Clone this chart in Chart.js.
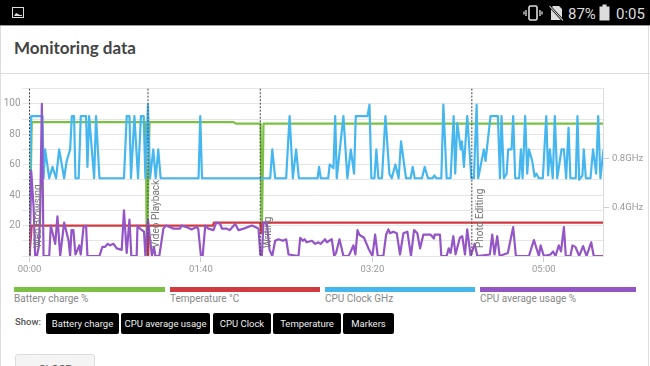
<!DOCTYPE html>
<html>
<head>
<meta charset="utf-8">
<script src="https://cdn.jsdelivr.net/npm/chart.js@4"></script>
<style>
    html, body { margin: 0; padding: 0; background: #fff; overflow: hidden; }
    body { position: relative; width: 650px; height: 366px; font-family: Roboto, sans-serif; }
    .abs { position: absolute; white-space: nowrap; }
    #statusBar { left: 0; top: 0; width: 650px; height: 25px; background: #000; border-bottom: 1px solid #999; }
    #sideLeft { left: 0; top: 26px; width: 1px; height: 340px; background: #ddd; }
    #sideRight { left: 648px; top: 26px; width: 1px; height: 340px; background: #ddd; }
    #title { left: 14px; top: 37px; font: bold 17px Lato, sans-serif; color: #444; }
    #divider { left: 0; top: 73px; width: 650px; height: 1px; background: #ddd; }
    #chartBox { left: 0; top: 80px; width: 650px; height: 200px; }
    .swatch { height: 5px; top: 287px; }
    .swatchLabel { top: 293px; font-size: 10px; color: #888; }
    #showLabel { left: 15px; top: 316px; font-size: 9.5px; font-weight: 500; color: #555; }
    .btn { top: 313px; height: 21px; line-height: 21px; background: #000; color: #eee; border-radius: 2px;
        font-size: 9.5px; font-weight: 400; text-align: center; }
    #closeBtn { left: 15px; top: 354px; width: 78px; height: 24px; background: #f4f4f4; border: 1px solid #ddd;
        border-radius: 3px; text-align: center; font-size: 11px; line-height: 30px; color: #555; }
    .statusText { color: #ddd; font-size: 15px; top: 5px; }
</style>
</head>
<body>
<div class="abs" id="statusBar"></div>
<svg class="abs" style="left:12px;top:7px" width="13" height="12">
    <rect x="0.5" y="0.5" width="11" height="10" fill="none" stroke="#ddd"/>
    <path d="M2 9 L4 6 L6 7 L8 8 L10 8 L10 9 Z" fill="#ddd"/>
</svg>
<svg class="abs" style="left:523px;top:5px" width="20" height="16">
    <rect x="6" y="1" width="8" height="14" rx="1.5" fill="none" stroke="#ddd" stroke-width="1.6"/>
    <path d="M3 5 V11 M1 6.5 V9.5 M17 5 V11 M19 6.5 V9.5" stroke="#ddd" stroke-width="1.3"/>
</svg>
<svg class="abs" style="left:549px;top:5px" width="15" height="16">
    <path d="M4 1 H10 L13 4 V15 H2 V3 Z" fill="#ddd"/>
    <path d="M0.5 1 L14 15.5" stroke="#000" stroke-width="2.4"/>
    <path d="M0.5 1 L14 15.5" stroke="#ddd" stroke-width="1.1"/>
</svg>
<div class="abs statusText" style="left:568px">87%</div>
<svg class="abs" style="left:599px;top:4px" width="11" height="17">
    <path d="M3.5 0.5 H7.5 V2.5 H10.5 V16.5 H0.5 V2.5 H3.5 Z" fill="#ddd"/>
</svg>
<div class="abs statusText" style="left:616px">0:05</div>

<div class="abs" id="sideLeft"></div>
<div class="abs" id="sideRight"></div>
<div class="abs" id="title">Monitoring data</div>
<div class="abs" id="divider"></div>

<div class="abs" id="chartBox"><canvas id="monitorChart" width="650" height="200"></canvas></div>

<div class="abs swatch" style="left:14px;width:151px;background:#7ac143"></div>
<div class="abs swatchLabel" style="left:14px">Battery charge %</div>
<div class="abs swatch" style="left:170px;width:150px;background:#d13b40"></div>
<div class="abs swatchLabel" style="left:170px">Temperature °C</div>
<div class="abs swatch" style="left:325px;width:150px;background:#45b7ee"></div>
<div class="abs swatchLabel" style="left:325px">CPU Clock GHz</div>
<div class="abs swatch" style="left:480px;width:156px;background:#9455c7"></div>
<div class="abs swatchLabel" style="left:480px">CPU average usage %</div>

<div class="abs" id="showLabel">Show:</div>
<div class="abs btn" style="left:46px;width:73px">Battery charge</div>
<div class="abs btn" style="left:121px;width:89px">CPU average usage</div>
<div class="abs btn" style="left:213px;width:58px">CPU Clock</div>
<div class="abs btn" style="left:273px;width:68px">Temperature</div>
<div class="abs btn" style="left:343px;width:51px">Markers</div>
<div class="abs" id="closeBtn">CLOSE</div>

<script>
const timeTicks = [0, 100, 200, 300];
const timeLabels = ["00:00", "01:40", "03:20", "05:00"];
const usageTicks = [0, 10, 20, 30, 40, 50, 60, 70, 80, 90, 100, 110];
const clockTicks = [0.4, 0.8];

const markerTimes = [0, 69.1, 134.6, 258];
const markerNames = ["Web Browsing", "Video Playback", "Writing", "Photo Editing"];

const batteryTimes = [0, 1.3, 67.8, 68.4, 70, 119, 120.6, 134.8, 135.5, 136.5, 335];
const batteryValues = [0, 88, 88, 0, 88, 88, 87, 87, 15, 87, 87];

const tempTimes = [0, 1.3, 68.7, 69.2, 69.7, 107, 107.5, 134.6, 135.3, 136, 335];
const tempValues = [0, 20, 20, 0, 20, 20, 22, 22, 15, 22, 22];

const clockTimes = [0, 1, 7.6, 8.2, 9.1, 11.5, 13.4, 15.5, 17.3, 20.2, 21.7, 23.7, 24.7, 26, 26.8, 28.7, 29.9, 33, 33.8, 34.8,
    37.7, 38.8, 40.8, 55.1, 56.7, 58.3, 59.2, 61.2, 63.3, 65, 66.6, 67.6, 69.1, 70.3, 72.2, 73.6, 75.1, 76.5, 98.6, 99.6, 100.6,
    140.4, 141.6, 143.3, 149.7, 151.7, 153.6, 155.5, 157.1, 168, 168.9, 169.9, 174.2, 175.1, 177.3, 178.3, 179.2, 183.1, 185.4,
    187.4, 189.3, 190.3, 197.1, 198.3, 199.4, 201.2, 202.3, 203.5, 205.6, 207.6, 209.9, 211.3, 213.4, 215.3, 216.7, 219.6, 222.3,
    223.5, 224.7, 228.9, 230.5, 232.4, 235.1, 236.1, 237.3, 240.2, 241.4, 243.3, 245.6, 247.4, 248.3, 249.5, 251.5, 252.2, 253.4,
    255.3, 257.7, 259.2, 260.8, 261.7, 265, 266, 268.9, 273.2, 274.4, 275.3, 276.7, 278.3, 279.2, 281.2, 282.1, 283.3, 285.6,
    286.6, 287.6, 289.1, 290.3, 291.3, 293.2, 294.6, 295.7, 297.1, 299.4, 301.4, 302.5, 303.5, 305.2, 306.4, 307.8, 310.3, 311.7,
    313, 314.4, 315.5, 318.6, 319.6, 320.6, 322.5, 323.3, 324.5, 327.2, 328.7, 330.5, 331.7, 333, 334.8];
const clockValues = [0.4, 1.146, 1.146, 0.637, 0.873, 0.637, 0.73, 0.637, 0.873, 0.637, 0.78, 0.873, 1.146, 1.146, 0.637, 0.637, 1.146, 1.146, 0.73, 1.146,
    0.637, 1.146, 0.637, 0.637, 1.146, 1.146, 0.637, 1.146, 0.637, 1.146, 1.146, 0.637, 1.24, 0.637, 0.873, 0.637, 0.873, 0.637, 0.637, 1.146, 0.637,
    0.637, 0.873, 0.637, 0.637, 1.146, 0.637, 0.873, 0.637, 0.637, 0.73, 0.637, 0.637, 0.75, 0.72, 1.146, 0.637, 1.146, 0.637,
    0.873, 0.675, 1.146, 1.146, 1.24, 0.637, 0.637, 0.873, 0.637, 0.637, 1.146, 0.675, 0.637, 0.75, 0.637, 0.94, 0.637, 0.637,
    0.73, 0.637, 0.637, 0.73, 0.637, 0.637, 0.66, 0.637, 0.637, 1.24, 0.637, 0.637, 1.146, 0.675, 1.09, 0.873, 0.94, 0.73,
    1.146, 0.637, 0.637, 1.24, 0.637, 0.873, 0.78, 1.146, 1.146, 0.637, 1.146, 0.637, 0.675, 0.873, 0.873, 1.146, 0.637, 0.637,
    0.873, 0.637, 1.146, 0.675, 0.873, 0.78, 0.65, 0.675, 0.637, 0.637, 1.146, 0.66, 0.873, 0.637, 1.146, 0.637, 0.873, 0.873,
    0.637, 1.05, 0.637, 0.637, 1.146, 0.625, 0.66, 0.873, 0.637, 0.637, 0.873, 0.675, 1.146, 0.637, 0.873];

const usageTimes = [0, 1, 2.4, 3.3, 4.3, 5.4, 6.2, 7.2, 8.2, 11.5, 12.4, 15, 16.3, 17.9, 20.2, 22.8, 23.7, 24.5, 25.6, 26.8, 28, 29, 29.9, 31.5, 33, 33.8,
    40.8, 42.5, 44.1, 45.6, 47, 49, 50.9, 53.8, 55.1, 56.7, 58.3, 59.4, 62.5, 63, 64.4, 66.8, 67.6, 69.1, 71.4, 72.6, 73.4, 75.7, 78.1, 79.6, 81.9, 83.9,
    87.8, 88.7, 91.6, 94.5, 97.4, 98.4, 100, 101, 102.5, 104.3, 107.3, 108.9, 111.3, 112.2, 115.1, 116.7, 120, 121.9, 124.9, 129.7, 133.6, 134.6, 135.5,
    136.5, 138.4, 140, 141.6, 143.3, 145.2, 147.8, 149.7, 151.1, 156.9, 157.9, 159.4, 160.4, 161.7, 164.7, 166.6, 168.5, 169.9, 172.4, 173.4, 176.3, 177.7,
    178.8, 180.8, 183.1, 186, 187, 188.9, 190.1, 191.3, 192.4, 195.1, 197.7, 200, 201.6, 203.1, 206.4, 208, 209.3, 210.3, 212.2, 214.2, 216.1, 218.1, 220.4,
    222.5, 224.3, 226.2, 227.8, 229.7, 234, 235.9, 236.3, 239.4, 240.2, 243.3, 244.5, 245.6, 247.2, 248.5, 251, 252.4, 254, 255.3, 257.3, 259.6, 261.2,
    268.5, 269.9, 271.2, 272.8, 274.2, 279, 282.1, 283.7, 291.3, 294.2, 297.1, 298.1, 300, 303.9, 305.4, 306.8, 308.7, 310, 311.7, 312.8, 315.5, 316.7,
    318.4, 320.6, 322.9, 324.9, 327.6, 329.1, 334.8];
const usageValues = [0, 56, 32, 0, 0, 6, 28, 100, 0, 0, 20, 8, 26, 0, 22, 10, 0, 17, 17, 1, 4, 7, 1, 19, 20, 0,
    0, 6, 6, 8, 7, 8, 5, 4, 30, 2, 24, 0, 0, 20, 18, 16, 0, 24, 0, 6, 0, 0, 18, 20, 19, 18,
    18, 20, 19, 17.5, 19, 18, 0, 0, 20, 18, 17, 22, 21, 18, 18, 17, 21, 17, 18, 20, 18, 1, 0,
    22, 22, 4, 0, 10, 11, 10, 11, 1, 0, 12, 10, 11, 9, 10, 8, 9, 8, 11, 9, 11, 0,
    2, 11, 0, 0, 2, 7, 1, 17, 14, 12, 5, 0, 14, 0, 0, 14, 17.5, 15, 16, 15, 1, 15, 16,
    0, 17, 15, 5, 14, 14, 11.5, 14, 14, 0, 0, 5, 2, 13, 1, 12, 13, 1, 17.5, 0, 8, 0,
    1, 14, 1, 13, 0, 2, 19, 0, 0, 10.5, 0, 7, 0, 1, 3, 0, 7, 3, 19, 0, 0, 7,
    6, 0, 6.5, 0, 9, 0, 0];

function toPoints(times, values) {
    return times.map((t, i) => ({ x: t, y: values[i] }));
}

// dashed lines with rotated names for the test sections
const markerPlugin = {
    id: "markers",
    afterDatasetsDraw(chart) {
        const { ctx, chartArea, scales } = chart;
        markerTimes.forEach((t, i) => {
            const px = scales.x.getPixelForValue(t);
            ctx.save();
            ctx.strokeStyle = "#444";
            ctx.lineWidth = 1;
            ctx.setLineDash([2, 1.5]);
            ctx.beginPath();
            ctx.moveTo(px, chartArea.top);
            ctx.lineTo(px, chartArea.bottom);
            ctx.stroke();
            ctx.setLineDash([]);
            ctx.translate(px + 8.5, chartArea.bottom - 8);
            ctx.rotate(-Math.PI / 2);
            ctx.font = "10px Roboto";
            ctx.fillStyle = "#777";
            ctx.textBaseline = "middle";
            ctx.fillText(markerNames[i], 0, 0);
            ctx.restore();
        });
    },
};

new Chart(document.getElementById("monitorChart").getContext("2d"), {
    type: "line",
    data: {
        datasets: [
            { label: "Battery charge %", data: toPoints(batteryTimes, batteryValues), borderColor: "#7ac143", yAxisID: "y", order: 4 },
            { label: "Temperature °C", data: toPoints(tempTimes, tempValues), borderColor: "#d13b40", yAxisID: "y", order: 3 },
            { label: "CPU Clock GHz", data: toPoints(clockTimes, clockValues), borderColor: "#45b7ee", yAxisID: "clock", order: 2 },
            { label: "CPU average usage %", data: toPoints(usageTimes, usageValues), borderColor: "#9455c7", yAxisID: "y", order: 1 },
        ],
    },
    options: {
        responsive: false,
        animation: false,
        parsing: false,
        elements: {
            point: { radius: 0 },
            line: { borderWidth: 2.2, tension: 0, borderJoinStyle: "round" },
        },
        layout: { padding: { top: 8 } },
        plugins: {
            legend: { display: false },
            tooltip: { enabled: false },
        },
        scales: {
            x: {
                type: "linear",
                min: 0,
                max: 334.5,
                afterBuildTicks(axis) {
                    axis.ticks = timeTicks.map((v) => ({ value: v }));
                },
                afterFit(axis) {
                    axis.height = 24;
                },
                grid: { drawOnChartArea: false, color: "#ccc", tickLength: 6 },
                border: { display: false },
                ticks: {
                    color: "#999",
                    font: { family: "Roboto", size: 9.5 },
                    padding: 2,
                    maxRotation: 0,
                    callback: (v) => timeLabels[timeTicks.indexOf(v)],
                },
            },
            y: {
                position: "left",
                min: 0,
                max: 110,
                afterBuildTicks(axis) {
                    axis.ticks = usageTicks.map((v) => ({ value: v }));
                },
                afterFit(axis) {
                    axis.width = 29.5;
                },
                grid: { color: "#e6e6e6", tickLength: 7 },
                border: { display: false },
                ticks: {
                    color: "#999",
                    font: { family: "Roboto", size: 10 },
                    padding: 2,
                    callback: (v) => (v > 0 && v <= 100 && v % 20 === 0 ? v : ""),
                },
            },
            clock: {
                position: "right",
                min: 0,
                max: 1.371,
                afterBuildTicks(axis) {
                    axis.ticks = clockTicks.map((v) => ({ value: v }));
                },
                afterFit(axis) {
                    axis.width = 47;
                },
                grid: { drawOnChartArea: false, color: "#ccc", tickLength: 6 },
                border: { display: true, color: "#ddd" },
                ticks: {
                    color: "#999",
                    font: { family: "Roboto", size: 9.5 },
                    padding: 3,
                    callback: (v) => v.toFixed(1) + "GHz",
                },
            },
        },
    },
    plugins: [markerPlugin],
});
</script>
</body>
</html>
